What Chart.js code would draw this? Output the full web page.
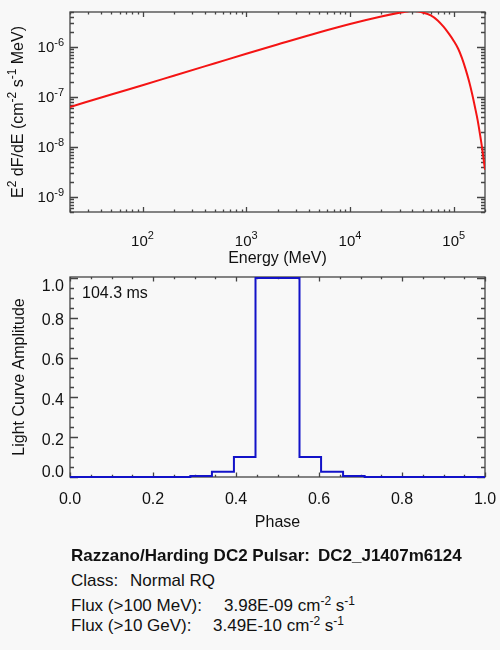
<!DOCTYPE html>
<html>
<head>
<meta charset="utf-8">
<script src="https://cdn.jsdelivr.net/npm/chart.js@4.4.0/dist/chart.umd.min.js"></script>
<style>
  html, body { margin: 0; padding: 0; background: #f8f8f8; }
  body { width: 500px; height: 650px; position: relative; overflow: hidden; font-family: "Liberation Sans", Arial, sans-serif; color: #111; }
  #sedChart { position: absolute; left: 0; top: 0; }
  #lcChart { position: absolute; left: 0; top: 265px; }
  .info { position: absolute; left: 71px; font-size: 17px; line-height: 17px; white-space: pre; }
  .info sup { font-size: 12px; vertical-align: 6px; line-height: 0; }
</style>
</head>
<body>
<canvas id="sedChart" width="500" height="270"></canvas>
<canvas id="lcChart" width="500" height="280"></canvas>
<div class="info" style="top:547px"><b>Razzano/Harding DC2 Pulsar:</b></div>
<div class="info" style="top:547px; left:318px"><b>DC2_J1407m6124</b></div>
<div class="info" style="top:572px">Class:</div>
<div class="info" style="top:572px; left:130px">Normal RQ</div>
<div class="info" style="top:597px">Flux (&gt;100 MeV):</div>
<div class="info" style="top:597px; left:224px">3.98E-09 cm<sup>-2</sup> s<sup>-1</sup></div>
<div class="info" style="top:617px">Flux (&gt;10 GeV):</div>
<div class="info" style="top:617px; left:213px">3.49E-10 cm<sup>-2</sup> s<sup>-1</sup></div>
<script>
// spectrum (MeV, E^2 dF/dE)
const energy = [20, 50, 100, 200, 500, 1000, 2000, 5000, 10000, 20000, 30000, 35000, 40000, 45000,
  50000, 60000, 70000, 80000, 90000, 100000, 110000, 120000, 130000, 140000, 150000, 160000,
  170000, 180000, 190000, 200000];
const sed = [6.3e-8, 1.12e-7, 1.72e-7, 2.66e-7, 4.73e-7, 7.31e-7, 1.12e-6, 1.95e-6, 2.88e-6, 4.07e-6,
  4.84e-6, 5.1e-6, 5.3e-6, 5.15e-6, 4.9e-6, 4.27e-6, 3.39e-6, 2.51e-6, 1.82e-6, 1.32e-6, 9.3e-7,
  6.0e-7, 3.6e-7, 2.1e-7, 1.17e-7, 6.3e-8, 3.4e-8, 1.66e-8, 7.9e-9, 3.5e-9];

// light curve histogram: bin start phase and amplitude
const phaseEdges = [0.0, 0.290, 0.342, 0.395, 0.447, 0.553, 0.605, 0.658, 0.710, 1.0];
const amplitude = [0.0, 0.005, 0.027, 0.10, 1.0, 0.10, 0.027, 0.005, 0.0, 0.0];

// tick labels
const energyTicks = [1e2, 1e3, 1e4, 1e5];
const energyTickLabels = ['10^2', '10^3', '10^4', '10^5'];
const sedTicks = [1e-9, 1e-8, 1e-7, 1e-6];
const sedTickLabels = ['10^-9', '10^-8', '10^-7', '10^-6'];
const phaseTicks = [0, 0.2, 0.4, 0.6, 0.8, 1.0];
const phaseTickLabels = ['0.0', '0.2', '0.4', '0.6', '0.8', '1.0'];
const ampTicks = [0, 0.2, 0.4, 0.6, 0.8, 1.0];
const ampTickLabels = ['0.0', '0.2', '0.4', '0.6', '0.8', '1.0'];

const FONT = '"Liberation Sans", Arial, sans-serif';
const AXIS = '#444';
const TEXT = '#111';

function logTicks(min, max, majors) {
  const out = [];
  for (let d = Math.floor(Math.log10(min)); d <= Math.ceil(Math.log10(max)); d++) {
    for (let k = 1; k <= 9; k++) {
      const v = k * Math.pow(10, d);
      if (v >= min * 0.999 && v <= max * 1.001) out.push({ value: v, major: majors.some(m => Math.abs(m - v) / m < 1e-6) });
    }
  }
  return out;
}

function linTicks(min, max, step, majors) {
  const out = [];
  for (let i = 0; min + i * step <= max + 1e-9; i++) {
    const v = +(min + i * step).toFixed(6);
    out.push({ value: v, major: majors.some(m => Math.abs(m - v) < 1e-6) });
  }
  return out;
}

// draw text made of parts, some raised as superscripts
function drawRich(ctx, parts, x, y, align, size) {
  const supSize = Math.round(size * 0.72);
  let w = 0;
  parts.forEach(p => {
    ctx.font = (p.sup ? supSize : size) + 'px ' + FONT;
    p.w = ctx.measureText(p.t).width;
    w += p.w;
  });
  let cx = align === 'center' ? x - w / 2 : align === 'right' ? x - w : x;
  ctx.textAlign = 'left';
  ctx.textBaseline = 'alphabetic';
  parts.forEach(p => {
    ctx.font = (p.sup ? supSize : size) + 'px ' + FONT;
    ctx.fillText(p.t, cx, p.sup ? y - size * 0.45 : y);
    cx += p.w;
  });
}

function splitPow(label) {
  const bits = label.split('^');
  return bits.length > 1 ? [{ t: bits[0] }, { t: bits[1], sup: true }] : [{ t: label }];
}

// IDL style box: frame with inward ticks on all sides
const idlFrame = {
  id: 'idlFrame',
  beforeDatasetsDraw(chart, args, opts) {
    const { ctx, chartArea: a } = chart;
    const xs = chart.scales.x, ys = chart.scales.y;
    ctx.save();
    ctx.strokeStyle = AXIS;
    ctx.lineWidth = 1.3;
    ctx.strokeRect(a.left, a.top, a.right - a.left, a.bottom - a.top);
    ctx.beginPath();
    xs.ticks.forEach(t => {
      const px = Math.round(xs.getPixelForValue(t.value)) + 0.5;
      const len = t.major ? opts.xMajor : opts.xMajor / 2;
      ctx.moveTo(px, a.bottom); ctx.lineTo(px, a.bottom - len);
      ctx.moveTo(px, a.top); ctx.lineTo(px, a.top + len);
    });
    ys.ticks.forEach(t => {
      const py = Math.round(ys.getPixelForValue(t.value)) + 0.5;
      const len = t.major ? opts.yMajor : opts.yMajor / 2;
      ctx.moveTo(a.left, py); ctx.lineTo(a.left + len, py);
      ctx.moveTo(a.right, py); ctx.lineTo(a.right - len, py);
    });
    ctx.stroke();

    // tick labels
    ctx.fillStyle = TEXT;
    opts.xLabels.forEach((lab, i) => {
      const px = xs.getPixelForValue(opts.xTickValues[i]);
      drawRich(ctx, splitPow(lab), px, a.bottom + opts.xLabelDy, 'center', opts.tickSize);
    });
    opts.yLabels.forEach((lab, i) => {
      const py = ys.getPixelForValue(opts.yTickValues[i]);
      let base = py + opts.yLabelDy;
      base = Math.max(a.top + 14, Math.min(a.bottom, base));
      drawRich(ctx, splitPow(lab), a.left - 6, base, 'right', opts.tickSize);
    });

    // axis titles
    drawRich(ctx, opts.xTitle, (a.left + a.right) / 2, a.bottom + opts.xTitleDy, 'center', 16);
    ctx.save();
    ctx.translate(opts.yTitleX, (a.top + a.bottom) / 2);
    ctx.rotate(-Math.PI / 2);
    drawRich(ctx, opts.yTitle, 0, 0, 'center', 16);
    ctx.restore();

    if (opts.note) drawRich(ctx, [{ t: opts.note }], a.left + 12, a.top + 21, 'left', 16);
    ctx.restore();
  }
};

function fixedBox(left, height) {
  return {
    x: (s) => { s.height = height; },
    y: (s) => { s.width = left; }
  };
}

const sedBox = fixedBox(70, 58);
new Chart(document.getElementById('sedChart'), {
  type: 'line',
  data: {
    datasets: [{
      data: energy.map((e, i) => ({ x: e, y: sed[i] })),
      borderColor: '#f41414',
      borderWidth: 2,
      pointRadius: 0,
      cubicInterpolationMode: 'monotone',
      clip: 0
    }]
  },
  options: {
    responsive: false,
    animation: false,
    events: [],
    layout: { padding: { top: 12, right: 15, left: 0, bottom: 0 } },
    scales: {
      x: {
        type: 'logarithmic', min: 20, max: 2e5,
        grid: { display: false }, border: { display: false }, ticks: { display: false },
        afterBuildTicks: (s) => { s.ticks = logTicks(20, 2e5, energyTicks); },
        afterFit: sedBox.x
      },
      y: {
        type: 'logarithmic', min: 5e-10, max: 5e-6,
        grid: { display: false }, border: { display: false }, ticks: { display: false },
        afterBuildTicks: (s) => { s.ticks = logTicks(5e-10, 5e-6, sedTicks); },
        afterFit: sedBox.y
      }
    },
    plugins: {
      legend: { display: false },
      tooltip: { enabled: false },
      idlFrame: {
        xMajor: 5, yMajor: 8, tickSize: 15,
        xTickValues: energyTicks, xLabels: energyTickLabels, xLabelDy: 34,
        yTickValues: sedTicks, yLabels: sedTickLabels, yLabelDy: 5.5,
        xTitle: [{ t: 'Energy (MeV)' }], xTitleDy: 51,
        yTitleX: 23,
        yTitle: [{ t: 'E' }, { t: '2', sup: true }, { t: ' dF/dE (cm' }, { t: '-2', sup: true },
          { t: ' s' }, { t: '-1', sup: true }, { t: ' MeV)' }]
      }
    }
  },
  plugins: [idlFrame]
});

const lcBox = fixedBox(70, 68);
new Chart(document.getElementById('lcChart'), {
  type: 'line',
  data: {
    datasets: [{
      data: phaseEdges.map((p, i) => ({ x: p, y: amplitude[i] })),
      borderColor: '#1212c8',
      borderWidth: 2,
      pointRadius: 0,
      stepped: 'before',
      clip: false
    }]
  },
  options: {
    responsive: false,
    animation: false,
    events: [],
    layout: { padding: { top: 12, right: 15, left: 0, bottom: 0 } },
    scales: {
      x: {
        type: 'linear', min: 0, max: 1,
        grid: { display: false }, border: { display: false }, ticks: { display: false },
        afterBuildTicks: (s) => { s.ticks = linTicks(0, 1, 0.05, phaseTicks); },
        afterFit: lcBox.x
      },
      y: {
        type: 'linear', min: 0, max: 1.005,
        grid: { display: false }, border: { display: false }, ticks: { display: false },
        afterBuildTicks: (s) => { s.ticks = linTicks(0, 1, 0.05, ampTicks); },
        afterFit: lcBox.y
      }
    },
    plugins: {
      legend: { display: false },
      tooltip: { enabled: false },
      idlFrame: {
        xMajor: 4.5, yMajor: 8, tickSize: 16,
        xTickValues: phaseTicks, xLabels: phaseTickLabels, xLabelDy: 27,
        yTickValues: ampTicks, yLabels: ampTickLabels, yLabelDy: 7.7,
        xTitle: [{ t: 'Phase' }], xTitleDy: 49.5,
        yTitleX: 24,
        yTitle: [{ t: 'Light Curve Amplitude' }],
        note: '104.3 ms'
      }
    }
  },
  plugins: [idlFrame]
});
</script>
</body>
</html>
